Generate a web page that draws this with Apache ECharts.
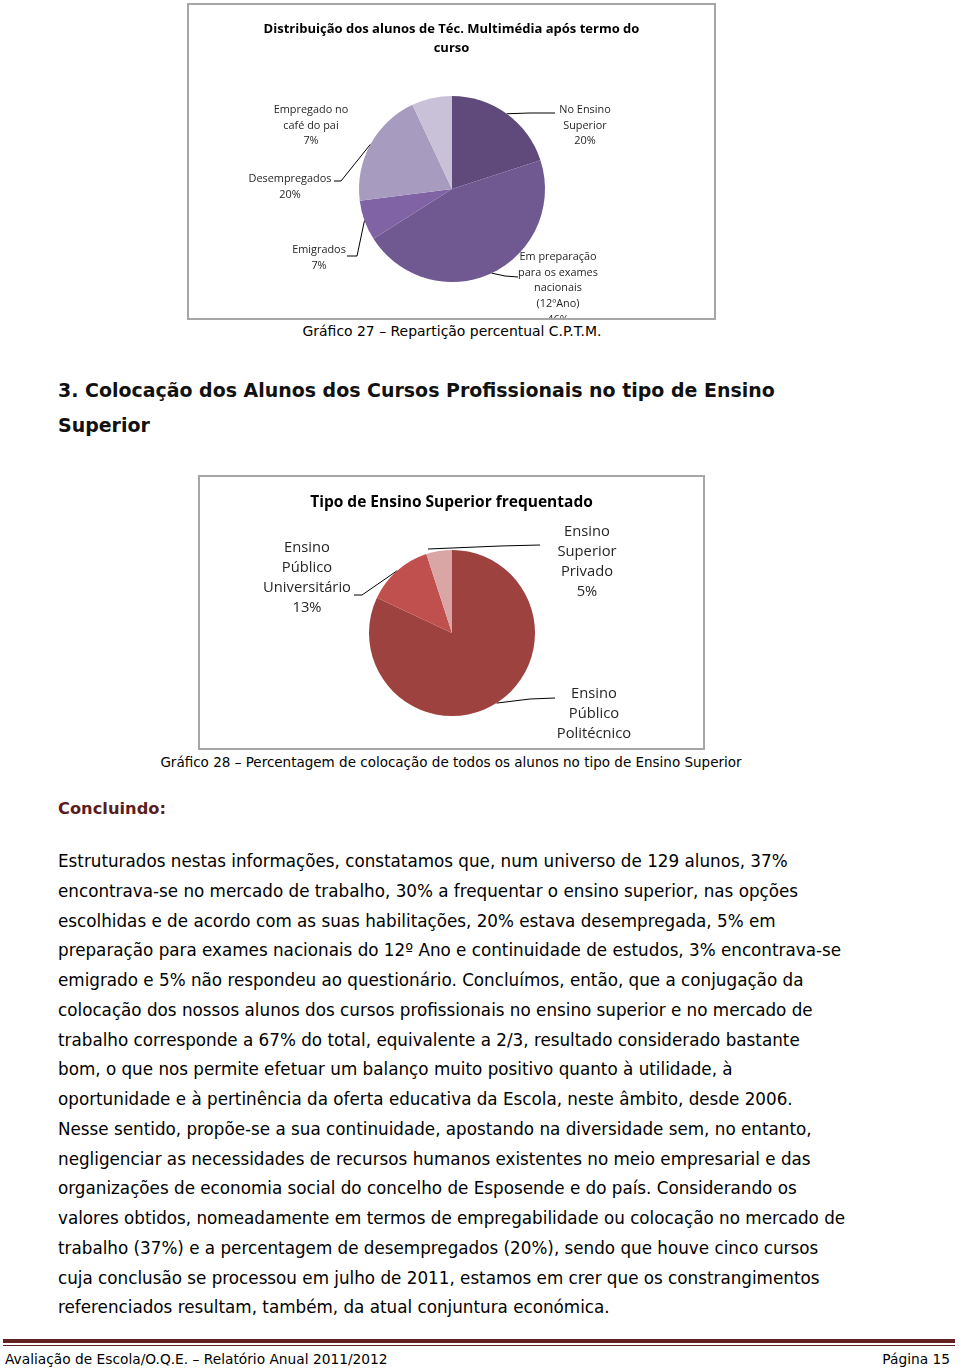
<!DOCTYPE html>
<html><head><meta charset="utf-8">
<script src="https://cdn.jsdelivr.net/npm/echarts@6/dist/echarts.min.js"></script>
<style>
body{margin:0;width:960px;height:1371px;position:relative;background:#fff;overflow:hidden;font-family:"DejaVu Sans",sans-serif;}
.box{position:absolute;border:2px solid #a6a6a6;box-sizing:border-box;background:#fff;}
.box>div{position:absolute;left:0;top:0;width:100%;height:100%;}
.t{position:absolute;white-space:nowrap;color:#000;}
.rule1{position:absolute;left:3px;width:952px;top:1339px;height:4px;background:#622423;}
.rule2{position:absolute;left:3px;width:952px;top:1345px;height:1px;background:#622423;}
</style></head>
<body>
<div class="box" id="box1" style="left:187px;top:3px;width:529px;height:317px;"><div id="c1"></div></div>
<div class="box" id="box2" style="left:198px;top:475px;width:507px;height:275px;"><div id="c2"></div></div>
<div class="rule1"></div><div class="rule2"></div>
<script>
// ---------- data ----------
const chart1Title = 'Distribuição dos alunos de Téc. Multimédia após termo do\ncurso';
const chart1Names = ['No Ensino\nSuperior', 'Em preparação\npara os exames\nnacionais\n(12ºAno)', 'Emigrados', 'Desempregados', 'Empregado no\ncafé do pai'];
const chart1Values = [20, 46, 7, 20, 7];
const chart1Colors = ['#5f4a7b', '#705891', '#8063a4', '#a79bc0', '#c9c1d8'];

const chart2Title = 'Tipo de Ensino Superior frequentado';
const chart2Names = ['Ensino\nPúblico\nPolitécnico', 'Ensino\nPúblico\nUniversitário', 'Ensino\nSuperior\nPrivado'];
const chart2Values = [82, 13, 5];
const chart2Colors = ['#9e4240', '#c0504d', '#d9a6a5'];

const caption27 = 'Gráfico 27 – Repartição percentual C.P.T.M.';
const caption28 = 'Gráfico 28 – Percentagem de colocação de todos os alunos no tipo de Ensino Superior';
const headingLines = ['3. Colocação dos Alunos dos Cursos Profissionais no tipo de Ensino', 'Superior'];
const concludingTitle = 'Concluindo:';
const bodyLines = [
 'Estruturados nestas informações, constatamos que, num universo de 129 alunos, 37%',
 'encontrava-se no mercado de trabalho, 30% a frequentar o ensino superior, nas opções',
 'escolhidas e de acordo com as suas habilitações, 20% estava desempregada, 5% em',
 'preparação para exames nacionais do 12º Ano e continuidade de estudos, 3% encontrava-se',
 'emigrado e 5% não respondeu ao questionário. Concluímos, então, que a conjugação da',
 'colocação dos nossos alunos dos cursos profissionais no ensino superior e no mercado de',
 'trabalho corresponde a 67% do total, equivalente a 2/3, resultado considerado bastante',
 'bom, o que nos permite efetuar um balanço muito positivo quanto à utilidade, à',
 'oportunidade e à pertinência da oferta educativa da Escola, neste âmbito, desde 2006.',
 'Nesse sentido, propõe-se a sua continuidade, apostando na diversidade sem, no entanto,',
 'negligenciar as necessidades de recursos humanos existentes no meio empresarial e das',
 'organizações de economia social do concelho de Esposende e do país. Considerando os',
 'valores obtidos, nomeadamente em termos de empregabilidade ou colocação no mercado de',
 'trabalho (37%) e a percentagem de desempregados (20%), sendo que houve cinco cursos',
 'cuja conclusão se processou em julho de 2011, estamos em crer que os constrangimentos',
 'referenciados resultam, também, da atual conjuntura económica.'
];
const footerLeft = 'Avaliação de Escola/O.Q.E. – Relatório Anual 2011/2012';
const footerRight = 'Página 15';

// ---------- text helpers ----------
const ctx = document.createElement('canvas').getContext('2d');
function measure(text, weight, family, size){ ctx.font = weight+' '+size+'px '+family; return ctx.measureText(text).width; }
function fitSize(text, weight, family, target){ return 20*target/measure(text, weight, family, 20); }
function addText(text, opts){
  const el = document.createElement('div'); el.className='t'; el.textContent=text;
  el.style.fontFamily = opts.family; el.style.fontWeight = opts.weight||'normal';
  el.style.fontSize = opts.size+'px'; el.style.lineHeight = (opts.lh||opts.size*1.3)+'px';
  el.style.color = opts.color||'#000';
  const lh = opts.lh||opts.size*1.3;
  el.style.top = (opts.cy - lh/2)+'px';
  if (opts.right!==undefined){ el.style.right = opts.right+'px'; }
  else if (opts.cx!==undefined){ el.style.left = (opts.cx - measure(text, opts.weight||'normal', opts.family, opts.size)/2)+'px'; }
  else el.style.left = opts.left+'px';
  document.body.appendChild(el);
}
const F = '"DejaVu Sans"';
let s = fitSize(caption27, 'normal', F, 299);
addText(caption27, {family:F, size:s, cx:452, cy:331});
s = fitSize(caption28, 'normal', F, 582);
addText(caption28, {family:F, size:s, cx:451, cy:763});
s = fitSize(headingLines[0], 'bold', F, 717);
addText(headingLines[0], {family:F, weight:'bold', size:s, left:58, cy:390, color:'#111'});
addText(headingLines[1], {family:F, weight:'bold', size:s, left:58, cy:425, color:'#111'});
s = fitSize(concludingTitle, 'bold', F, 108);
addText(concludingTitle, {family:F, weight:'bold', size:s, left:58, cy:809, color:'#5a1e1e'});
s = fitSize(bodyLines[0], 'normal', F, 730);
bodyLines.forEach((l,i)=>addText(l, {family:F, size:s, left:58, cy:862+i*29.75}));
s = fitSize(footerLeft, 'normal', F, 383);
addText(footerLeft, {family:F, size:s, left:5, cy:1360});
addText(footerRight, {family:F, size:s, right:10, cy:1360});

// ---------- charts ----------
const CF = '"Open Sans"';
function buildPie(domId, origin, title, titleSize, titleTop, names, values, colors, radius, center, labelSize, labelLH, layouts){
  const chart = echarts.init(document.getElementById(domId), null, {renderer:'canvas'});
  chart.setOption({
    animation:false,
    title:{text:title, left:'center', top:titleTop, textStyle:{fontFamily:CF, fontWeight:'bold', fontSize:titleSize, lineHeight:19, color:'#000'}},
    series:[{
      type:'pie', radius:radius, center:center, startAngle:90, clockwise:true,
      data: names.map((n,i)=>({name:n, value:values[i], itemStyle:{color:colors[i]}, labelLine:{show: !!layouts[i].pts}})),
      label:{show:true, position:'outside', formatter:p=>p.name+'\n'+p.value+'%', fontFamily:CF, fontSize:labelSize, lineHeight:labelLH, color:'#262626', align:'center'},
      labelLine:{show:true, lineStyle:{color:'#000', width:1}, length:10, length2:10},
      itemStyle:{borderWidth:0},
      emphasis:{disabled:true},
      labelLayout: function(p){
        const L = layouts[p.dataIndex];
        const res = {x: L.cx - origin[0], y: L.top - origin[1], align:'center', verticalAlign:'top', hideOverlap:false, moveOverlap:false};
        if (L.pts){
          const start = L.start ? [L.start[0]-origin[0], L.start[1]-origin[1]] : p.labelLinePoints[0];
          res.labelLinePoints = [start].concat(L.pts.map(q=>[q[0]-origin[0], q[1]-origin[1]]));
        }
        return res;
      }
    }]
  });
}
// label layout (page coordinates)
const layout1 = [
  {cx:585, top:102, pts:[[530,113],[555,113]]},
  {cx:558, top:249, pts:[[505,276],[518,277]]},
  {cx:319, top:242, pts:[[357,256],[347,256]]},
  {cx:290, top:171, pts:[[341,181],[334,181]]},
  {cx:311, top:102, pts:null}
];
const layout2 = [
  {cx:594, top:684, pts:[[530,699],[555,698]]},
  {cx:307, top:538, pts:[[362,595],[354,595]]},
  {cx:587, top:522, start:[428,549], pts:[[500,546],[540,545]]}
];
const t1 = fitSize('Distribuição dos alunos de Téc. Multimédia após termo do', 'bold', CF, 376);
const l1 = fitSize('Desempregados', 'normal', CF, 83);
const t2 = fitSize(chart2Title, 'bold', CF, 283);
const l2 = fitSize('Universitário', 'normal', CF, 88);
buildPie('c1', [189,5], chart1Title, t1, 10, chart1Names, chart1Values, chart1Colors, 93, [263,184], l1, 15.7, layout1);
buildPie('c2', [200,477], chart2Title, t2, 11, chart2Names, chart2Values, chart2Colors, 83, [252,156], l2, 20, layout2);
</script>
</body></html>
